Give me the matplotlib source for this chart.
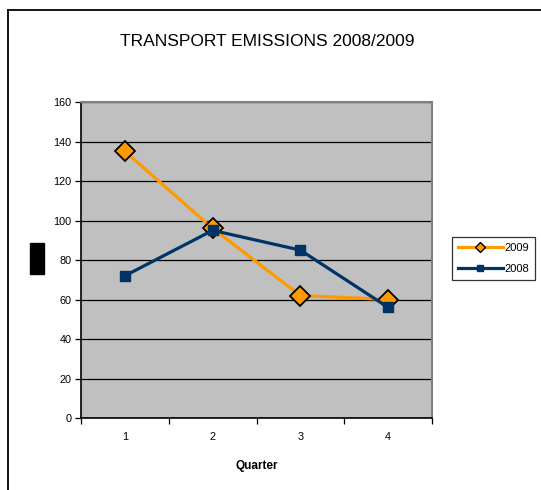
import numpy as np
import matplotlib
matplotlib.use('Agg')
import matplotlib.pyplot as plt
from matplotlib.lines import Line2D
from matplotlib.patches import Rectangle

plt.rcParams['font.family'] = ['Liberation Sans', 'DejaVu Sans']

# Data
quarters = [1, 2, 3, 4]
emissions_2009 = [135, 96, 62, 60]
emissions_2008 = [72, 95, 85, 56]

orange = '#FF9900'
navy = '#003366'

fig = plt.figure(figsize=(5.41, 4.90), dpi=100)
ax = fig.add_axes([81 / 541, 72 / 490, 351 / 541, 316 / 490])
ax.set_facecolor('#C0C0C0')

ax.plot(quarters, emissions_2009, color=orange, lw=2.3, marker='D', ms=10,
        mfc=orange, mec='black', mew=1.3, zorder=3)
ax.plot(quarters, emissions_2008, color=navy, lw=2.3, marker='s', ms=7,
        mfc=navy, mec=navy, zorder=4)

ax.set_xlim(0.5, 4.5)
ax.set_ylim(0, 160)
ax.set_yticks(np.arange(0, 161, 20))
ax.yaxis.grid(True, color='black', lw=0.9)
ax.set_axisbelow(True)

# category boundaries as ticks, labels at the centres
ax.set_xticks([0.5, 1.5, 2.5, 3.5, 4.5])
ax.set_xticklabels([])
ax.set_xticks(quarters, minor=True)
ax.set_xticklabels([str(q) for q in quarters], minor=True)
ax.tick_params(axis='x', which='minor', length=0, pad=10, labelsize=7.8)
ax.tick_params(axis='x', which='major', length=4, direction='out', width=0.9)
ax.tick_params(axis='y', length=4, direction='out', width=0.9, labelsize=7.8, pad=3)

for s in ['top', 'right']:
    ax.spines[s].set_color('#808080')
    ax.spines[s].set_linewidth(1.5)
for s in ['left', 'bottom']:
    ax.spines[s].set_color('black')
    ax.spines[s].set_linewidth(1.2)

ax.set_xlabel('Quarter', fontsize=8.5, fontweight='bold', labelpad=13)

fig.text(267 / 541, 1 - 42 / 490, 'TRANSPORT EMISSIONS 2008/2009',
         ha='center', va='center', fontsize=12.5)

# legend with smaller markers
handles = [
    Line2D([], [], color=orange, lw=2.3, marker='D', ms=5, mfc=orange, mec='black', mew=1),
    Line2D([], [], color=navy, lw=2.3, marker='s', ms=5, mfc=navy, mec=navy),
]
leg = fig.legend(handles, ['2009', '2008'], loc='upper left',
                 bbox_to_anchor=(452 / 541, 1 - 237 / 490), fontsize=8,
                 frameon=True, fancybox=False, edgecolor='black',
                 handlelength=4.0, handletextpad=0.15, borderpad=0.55,
                 labelspacing=0.95, borderaxespad=0)
leg.get_frame().set_linewidth(0.9)

# black block on the left side of the chart
fig.patches.append(Rectangle((30 / 541, 1 - 274 / 490), 14 / 541, 31 / 490,
                             transform=fig.transFigure, color='black'))

# outer chart border (left and top edges visible)
fig.add_artist(Line2D([7.5 / 541, 7.5 / 541], [0, 1 - 10.5 / 490], color='black',
                      lw=1.3, transform=fig.transFigure))
fig.add_artist(Line2D([7.5 / 541, 1], [1 - 10.5 / 490, 1 - 10.5 / 490], color='black',
                      lw=1.3, transform=fig.transFigure))

fig.savefig('out.png', dpi=100)
